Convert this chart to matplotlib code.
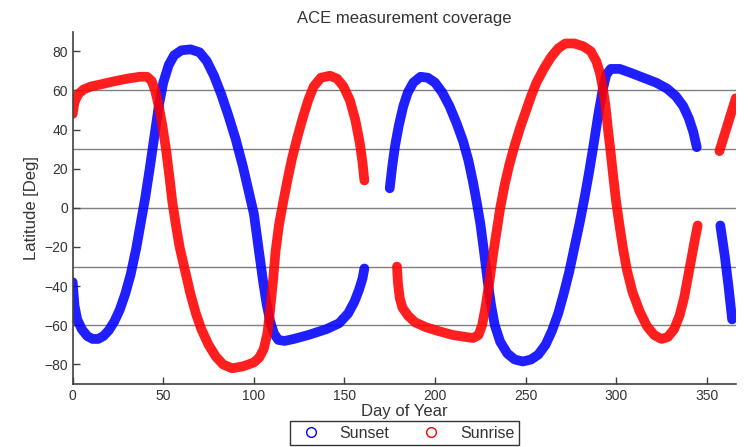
import numpy as np
import matplotlib
matplotlib.use("Agg")
import matplotlib.pyplot as plt
from matplotlib.lines import Line2D

plt.rcParams['font.family'] = ['Liberation Sans', 'DejaVu Sans']

# Sunset (blue) bands: day of year / latitude
sunset_day_1 = [0, 1, 2.5, 5, 8, 11, 14, 17, 20, 23, 26, 29, 32, 35, 37.5,
                40, 42.5, 45, 47.5, 50, 53, 56, 60, 65, 70, 74, 78, 82, 86,
                90, 94, 97, 100, 102.5, 105, 107, 109, 111, 113.5, 117, 122,
                130, 140, 147, 152, 155.5, 158, 160, 161]
sunset_lat_1 = [-38, -50, -57, -62, -65.5, -67, -67, -65.5, -62.5, -58, -52,
                -44, -34, -21, -8, 5, 20, 36, 52, 64, 73, 78, 80.5, 81, 79.5,
                75, 67.5, 58, 47, 35, 21, 9, -3, -20, -37, -49, -58, -64,
                -67.5, -68, -67, -65, -62, -59, -54, -48, -42, -36, -31]
sunset_day_2 = [175, 176.5, 178, 180, 182.5, 185, 188, 192, 196, 200, 204,
                208, 212, 215.5, 218.5, 221, 223, 225, 227, 229, 231, 233,
                236, 240, 244, 248.5, 253, 257, 261, 264.5, 268, 271, 274,
                277, 280, 282.5, 285, 287.5, 290, 292.5, 294.5, 297, 302,
                308, 315, 322, 328, 333, 337, 340, 342.5, 344.5]
sunset_lat_2 = [10, 22, 32, 42, 52, 59, 64, 67, 66.5, 64, 59, 52, 43, 34, 24,
                13, 3, -8, -22, -37, -50, -60, -68.5, -74.5, -77.5, -78.5,
                -77.5, -75, -70, -63, -54, -44, -33, -20, -7, 5, 18, 32, 47,
                60, 68, 71, 71, 69, 66.5, 64, 61, 57, 52, 46, 39, 31]
sunset_day_3 = [357.5, 360, 362, 364]
sunset_lat_3 = [-9, -25, -40, -57]

# Sunrise (red) bands
sunrise_day_1 = [0, 1, 3, 6, 10, 15, 22, 30, 37, 41, 43.5, 45.5, 47.5, 49.5,
                 51.5, 53.5, 55, 57, 59, 62, 65, 68, 71, 75, 79, 83, 88, 94,
                 100, 103, 105.5, 107.5, 109, 110.5, 112, 114, 116, 118.5,
                 121, 124, 127, 130, 133, 137, 142, 146, 149.5, 153, 156,
                 158.5, 160, 161]
sunrise_lat_1 = [48, 54, 58, 60.5, 62, 63, 64.5, 66, 67, 67, 65, 60, 52, 42,
                 30, 15, 3, -9, -20, -32, -44, -54, -62, -70, -76, -80, -82,
                 -81, -79, -76.5, -72, -64, -52, -38, -22, -8, 2, 14, 25, 36,
                 46, 55, 62, 66.5, 67.5, 66, 62, 55, 45, 33, 23, 14]
sunrise_day_2 = [179, 179.5, 180.5, 182, 185, 189, 195, 202, 210, 217, 221,
                 224, 226, 228, 230, 232, 234, 236, 238.5, 241, 244, 247,
                 250, 253, 256, 260, 264, 268, 272, 277, 282, 286, 289, 291,
                 292.5, 294, 295.5, 297, 298.5, 300, 302, 304, 306, 309, 313,
                 317, 321, 325, 328.5, 332, 335, 337.5, 339.5, 341.5, 343.5,
                 345]
sunrise_lat_2 = [-30, -38, -46, -51, -55, -58.5, -61, -63, -65, -66, -66.5,
                 -65, -60, -50, -38, -24, -12, 0, 12, 22, 32, 41, 49, 57, 64,
                 71, 77, 81.5, 84, 84, 82.5, 80, 75, 69, 62, 53, 40, 28, 15,
                 3, -10, -22, -32, -43, -53, -60.5, -65, -67, -66, -62, -55,
                 -46, -36, -26, -16, -9]
sunrise_day_3 = [357, 360, 363, 366]
sunrise_lat_3 = [29, 38, 47, 56]

sunset_segments = [(sunset_day_1, sunset_lat_1), (sunset_day_2, sunset_lat_2),
                   (sunset_day_3, sunset_lat_3)]
sunrise_segments = [(sunrise_day_1, sunrise_lat_1), (sunrise_day_2, sunrise_lat_2),
                    (sunrise_day_3, sunrise_lat_3)]

grid_lats = [-60, -30, 0, 30, 60]

fig = plt.figure(figsize=(7.48, 4.47), dpi=100)
ax = fig.add_axes([0.0972, 0.141, 0.8864, 0.788])

for lat in grid_lats:
    ax.axhline(lat, color='#7f7f7f', linewidth=1.0, zorder=1)

band = dict(linewidth=7, solid_capstyle='round', solid_joinstyle='round',
            alpha=0.88, zorder=2)
for days, lats in sunset_segments:
    ax.plot(days, lats, color='#0000ff', **band)
for days, lats in sunrise_segments:
    ax.plot(days, lats, color='#ff0000', **band)

ax.set_xlim(0, 366)
ax.set_ylim(-90, 90)
ax.set_xticks(np.arange(0, 351, 50))
ax.set_yticks(np.arange(-80, 81, 20))
ax.tick_params(direction='in', length=5, width=1, colors='#404040',
               labelcolor='#333333', labelsize=10)
for side in ['top', 'right']:
    ax.spines[side].set_visible(False)
for side in ['left', 'bottom']:
    ax.spines[side].set_color('#404040')
    ax.spines[side].set_linewidth(1.2)

ax.set_title('ACE measurement coverage', fontsize=12, color='#333333', pad=6)
ax.set_xlabel('Day of Year', fontsize=12, color='#333333', labelpad=1)
ax.set_ylabel('Latitude [Deg]', fontsize=12, color='#333333', labelpad=4)

handles = [Line2D([], [], linestyle='none', marker='o', markersize=7,
                  markerfacecolor='none', markeredgecolor='#0000ff', label='Sunset'),
           Line2D([], [], linestyle='none', marker='o', markersize=7,
                  markerfacecolor='none', markeredgecolor='#ff0000', label='Sunrise')]
leg = fig.legend(handles=handles, loc='center', bbox_to_anchor=(0.541, 0.031),
                 ncol=2, fontsize=11.5, frameon=True, fancybox=False,
                 edgecolor='black', handletextpad=0.8, columnspacing=1.6,
                 borderpad=0.3)
leg.get_frame().set_linewidth(1.0)
for t in leg.get_texts():
    t.set_color('#333333')

fig.savefig('out.png', dpi=100)
